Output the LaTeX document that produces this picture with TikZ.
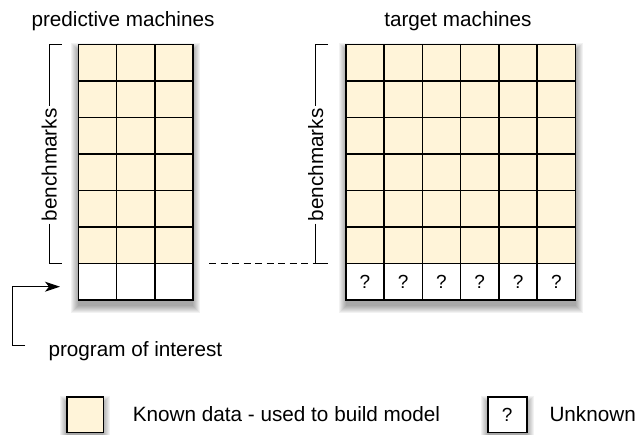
\documentclass[tikz,border=0pt]{standalone}
\usepackage{fontspec}
\setmainfont{Liberation Sans}
\usetikzlibrary{arrows.meta}
\definecolor{known}{RGB}{255,244,217}
\newcommand\softshade[4]{%
  \foreach \i in {0,...,7}{%
    \fill[black,opacity=0.05] ({#1-\i},{#2+6-\i}) rectangle ({#3+\i},{#4+6+\i});
  }%
}
\begin{document}
\begin{tikzpicture}[x=1pt,y=-1pt,
  txt/.style={font=\fontsize{20.7}{24}\selectfont, inner sep=0pt},
  cell/.style={draw=black, line width=1.6pt, minimum width=38.3pt, minimum height=36.53pt, inner sep=0pt, outer sep=0pt},
  knowncell/.style={cell, fill=known},
  unkcell/.style={cell, fill=white, font=\fontsize{19}{22}\selectfont},
  bracket/.style={line width=1.2pt},
  blabel/.style={txt, rotate=90, inner sep=2pt}
]
\useasboundingbox (0,0) rectangle (637,434);

% shadows
\softshade{78.3}{44.3}{193.3}{300}
\softshade{345.7}{44.3}{575.5}{300}
\softshade{66.7}{396.7}{103.3}{432.3}
\softshade{487.7}{396.7}{526.7}{432.3}

% left grid
\foreach \c in {0,1,2}{
  \foreach \r in {0,...,5}{
    \node[knowncell] (L-\r-\c) at ({78.3+38.33*\c+19.17},{44.3+36.53*\r+18.27}) {};
  }
  \node[unkcell] (L-6-\c) at ({78.3+38.33*\c+19.17},{44.3+36.53*6+18.27}) {};
}
% right grid
\foreach \c in {0,...,5}{
  \foreach \r in {0,...,5}{
    \node[knowncell] (R-\r-\c) at ({345.7+38.3*\c+19.15},{44.3+36.53*\r+18.27}) {};
  }
  \node[unkcell] (R-6-\c) at ({345.7+38.3*\c+19.15},{44.3+36.53*6+18.27}) {?};
}

% titles
\node[txt, anchor=base] (t1) at (123,26) {predictive machines};
\node[txt, anchor=base] (t2) at (457.9,26) {target machines};

% left bracket
\coordinate (lbt1) at (61.7,44.3);
\coordinate (lbt2) at (49.3,44.3);
\coordinate (lbb1) at (61.7,263.3);
\coordinate (lbb2) at (49.3,263.3);
\node[blabel] (lbl) at (49.3,165) {benchmarks};
\draw[bracket] (lbt1) -- (lbt2) -- (lbl.east);
\draw[bracket] (lbl.west) -- (lbb2) -- (lbb1);

% right bracket
\coordinate (rbt1) at (328,44.3);
\coordinate (rbt2) at (315.7,44.3);
\coordinate (rbb1) at (328,263.3);
\coordinate (rbb2) at (315.7,263.3);
\node[blabel] (rbl) at (315.7,165) {benchmarks};
\draw[bracket] (rbt1) -- (rbt2) -- (rbl.east);
\draw[bracket] (rbl.west) -- (rbb2) -- (rbb1);

% dashed link
\coordinate (ds) at (209,263.3);
\draw[bracket, dash pattern=on 7pt off 4.5pt] (ds) -- (rbb2);

% program of interest
\node[txt, anchor=base west] (poi) at (48.3,356.5) {program of interest};
\coordinate (pa0) at (25,345.5);
\coordinate (pa1) at (12.7,345.5);
\coordinate (pa2) at (12.7,286.7);
\coordinate (pa3) at (60,286.7);
\draw[bracket, -{Stealth[length=15pt,width=10pt,inset=4pt]}] (pa0) -- (pa1) -- (pa2) -- (pa3);

% legend
\node[knowncell, minimum width=36.6pt, minimum height=35.6pt] (lg1) at (85,414.5) {};
\node[txt, anchor=base west] (lg1t) at (132.7,421.5) {Known data - used to build model};
\node[unkcell, minimum width=39pt, minimum height=35.6pt] (lg2) at (507.2,414.5) {?};
\node[txt, anchor=base west] (lg2t) at (549.3,421.5) {Unknown};
\end{tikzpicture}
\end{document}
